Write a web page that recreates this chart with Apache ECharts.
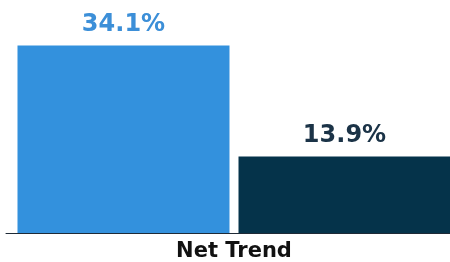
<!DOCTYPE html>
<html>
<head>
<meta charset="utf-8">
<script src="https://cdn.jsdelivr.net/npm/echarts@6/dist/echarts.min.js"></script>
<style>
html,body{margin:0;padding:0;background:#fff;}
#c{width:450px;height:262px;}
</style>
</head>
<body>
<div id="c"></div>
<script>
var categories = ['Net Trend'];
var seriesNames = ['A', 'B'];
var valuesA = [34.1];
var valuesB = [13.9];

var chart = echarts.init(document.getElementById('c'), null, {renderer: 'canvas'});
var font = 'DejaVu Sans';
chart.setOption({
  animation: false,
  backgroundColor: '#ffffff',
  grid: {left: 6, right: -12, top: 13, bottom: 29, containLabel: false, outerBoundsMode: 'none'},
  xAxis: {
    type: 'category',
    data: categories,
    axisLine: {show: true, lineStyle: {color: '#1f2a36', width: 1}},
    axisTick: {show: false},
    axisLabel: {
      fontFamily: font, fontWeight: 'bold', fontSize: 21, color: '#111111', margin: 8
    }
  },
  yAxis: {
    type: 'value', min: 0, max: 40,
    show: false,
    splitLine: {show: false}
  },
  series: [
    {
      name: seriesNames[0], type: 'bar', data: valuesA,
      barWidth: 212, barGap: '4.25%',
      itemStyle: {color: '#3391DD'},
      label: {show: true, position: 'top', distance: 9,
        formatter: function(p){ return p.value.toFixed(1) + '%'; },
        fontFamily: font, fontWeight: 'bold', fontSize: 24, color: '#3C8FD8'}
    },
    {
      name: seriesNames[1], type: 'bar', data: valuesB,
      barWidth: 212, barGap: '4.25%',
      itemStyle: {color: '#05334A'},
      label: {show: true, position: 'top', distance: 9,
        formatter: function(p){ return p.value.toFixed(1) + '%'; },
        fontFamily: font, fontWeight: 'bold', fontSize: 24, color: '#1B3347'}
    }
  ]
});
</script>
</body>
</html>
